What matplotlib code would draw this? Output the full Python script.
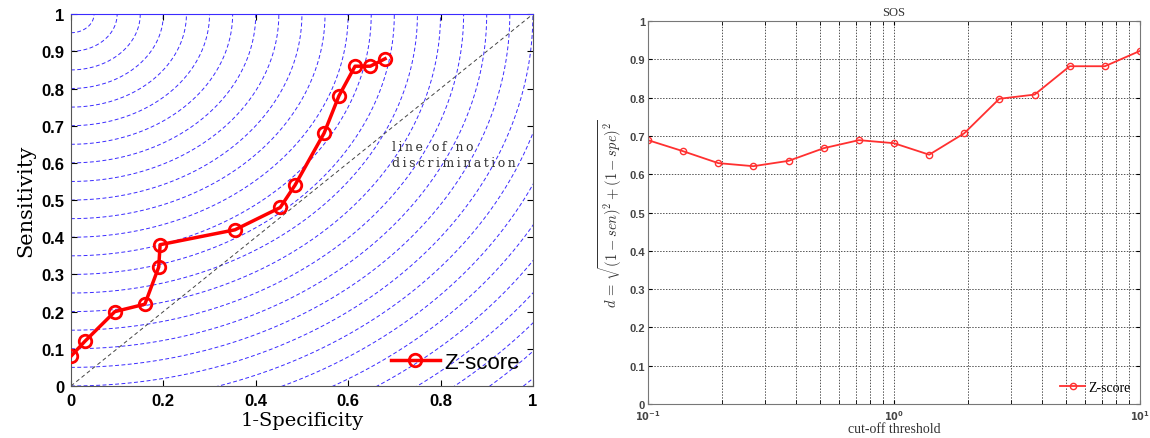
import numpy as np
import matplotlib
matplotlib.use("Agg")
import matplotlib.pyplot as plt
from matplotlib.ticker import LogLocator, NullFormatter, FixedLocator

plt.rcParams["mathtext.fontset"] = "cm"

# === data: ROC points (left) ===
fpr = [0.0, 0.03, 0.095, 0.16, 0.19, 0.193, 0.355, 0.453, 0.485, 0.548, 0.58, 0.615, 0.648, 0.68]
tpr = [0.08, 0.12, 0.20, 0.22, 0.32, 0.38, 0.42, 0.48, 0.54, 0.68, 0.78, 0.86, 0.86, 0.88]

# distance contours around (0, 1)
radii = [0.05, 0.10, 0.15, 0.20, 0.25, 0.30, 0.35, 0.40, 0.45, 0.50, 0.55, 0.60, 0.65, 0.70,
         0.75, 0.80, 0.85, 0.90, 0.95, 1.00, 1.05, 1.10, 1.15, 1.20, 1.25, 1.30, 1.35, 1.40]

# === data: distance vs cut-off threshold (right) ===
thresh = [0.1, 0.139, 0.193, 0.268, 0.373, 0.518, 0.72, 1.0, 1.39, 1.93, 2.68, 3.73, 5.18, 7.2, 10.0]
dist = [0.689, 0.660, 0.629, 0.621, 0.635, 0.668, 0.689, 0.681, 0.651, 0.707, 0.797, 0.808,
        0.882, 0.882, 0.922]

fig = plt.figure(figsize=(11.5, 4.39), dpi=100)

# ---------- left panel ----------
ax1 = fig.add_axes([0.0617, 0.1185, 0.4017, 0.847])
t = np.linspace(0, np.pi / 2, 400)
for r in radii:
    ax1.plot(r * np.sin(t), 1 - r * np.cos(t), color="#3b2bff", lw=0.7,
             dashes=(4, 2.5), zorder=1)
ax1.plot([0, 1], [0, 1], color="#444444", lw=0.7, dashes=(4, 3), zorder=2)
ax1.plot(fpr, tpr, color="#ff0000", lw=2.5, marker="o", ms=9, mfc="none",
         mew=2, label="Z-score", zorder=3)

def spaced(s):
    return "\u2009".join(s)

ax1.text(0.695, 0.634, spaced("line of no"), family="DejaVu Serif", fontsize=9,
         color="#333333")
ax1.text(0.695, 0.591, spaced("discrimination"), family="DejaVu Serif", fontsize=9,
         color="#333333")
ax1.set_xlim(0, 1)
ax1.set_ylim(0, 1)
ax1.set_xticks([0, 0.2, 0.4, 0.6, 0.8, 1])
ax1.set_xticklabels(["0", "0.2", "0.4", "0.6", "0.8", "1"])
ax1.set_yticks([i / 10 for i in range(11)])
ax1.set_yticklabels(["0", "0.1", "0.2", "0.3", "0.4", "0.5", "0.6", "0.7", "0.8", "0.9", "1"])
for lab in ax1.get_xticklabels() + ax1.get_yticklabels():
    lab.set_family("Liberation Sans")
    lab.set_fontweight("bold")
    lab.set_fontsize(12)
ax1.tick_params(direction="in", top=True, right=True, length=4, pad=5)
ax1.set_xlabel("1-Specificity", family="DejaVu Serif", fontsize=14, labelpad=2)
ax1.set_ylabel("Sensitivity", family="DejaVu Serif", fontsize=15, labelpad=4)
for s in ["left", "bottom", "right"]:
    ax1.spines[s].set_color("#555555")
ax1.spines["top"].set_color("#3b2bff")
ax1.legend(loc="lower right", frameon=False, handlelength=2.2,
           prop={"family": "Liberation Sans", "size": 16},
           borderaxespad=0.2, handletextpad=0.2)

# ---------- right panel ----------
ax2 = fig.add_axes([0.5635, 0.0774, 0.4278, 0.8724])
ax2.plot(thresh, dist, color="#ff3030", lw=1.3, marker="o", ms=4.5, mfc="none",
         mew=1, label="Z-score")
ax2.set_xscale("log")
ax2.set_xlim(0.1, 10)
ax2.set_ylim(0, 1)
ax2.xaxis.set_major_locator(FixedLocator([0.1, 1, 10]))
ax2.set_xticklabels([r"$\mathbf{10^{-1}}$", r"$\mathbf{10^{0}}$", r"$\mathbf{10^{1}}$"])
ax2.xaxis.set_minor_locator(LogLocator(base=10, subs=np.arange(2, 10)))
ax2.xaxis.set_minor_formatter(NullFormatter())
ax2.set_yticks([i / 10 for i in range(11)])
ax2.set_yticklabels(["0", "0.1", "0.2", "0.3", "0.4", "0.5", "0.6", "0.7", "0.8", "0.9", "1"])
for lab in ax2.get_yticklabels():
    lab.set_family("Liberation Sans")
    lab.set_fontsize(8)
    lab.set_fontweight("bold")
    lab.set_color("#444444")
for lab in ax2.get_xticklabels():
    lab.set_math_fontfamily("dejavusans")
    lab.set_fontsize(7)
    lab.set_color("#444444")
ax2.tick_params(direction="in", top=True, right=True, length=3, which="both")
ax2.tick_params(axis="x", pad=3)
ax2.tick_params(axis="y", pad=2)
ax2.grid(True, which="major", color="#555555", lw=0.7, ls=(0, (1.5, 1.5)))
ax2.grid(True, which="minor", axis="x", color="#555555", lw=0.7, ls=(0, (1.5, 1.5)))
ax2.set_title("SOS", family="Liberation Serif", fontsize=9, color="#333333", pad=4)
ax2.set_xlabel("cut-off threshold", family="Liberation Serif", fontsize=10,
               color="#333333", labelpad=0)
ax2.set_ylabel(r"$d\,=\,\sqrt{(1-sen)^2+(1-spe)^2}$", fontsize=10.5, color="#333333",
               labelpad=4)
for s in ax2.spines.values():
    s.set_color("#777777")
ax2.legend(loc="lower right", frameon=False, handlelength=1.8,
           prop={"family": "Liberation Serif", "size": 10},
           borderaxespad=0.3, handletextpad=0.2)

fig.savefig("out.png", dpi=100)
